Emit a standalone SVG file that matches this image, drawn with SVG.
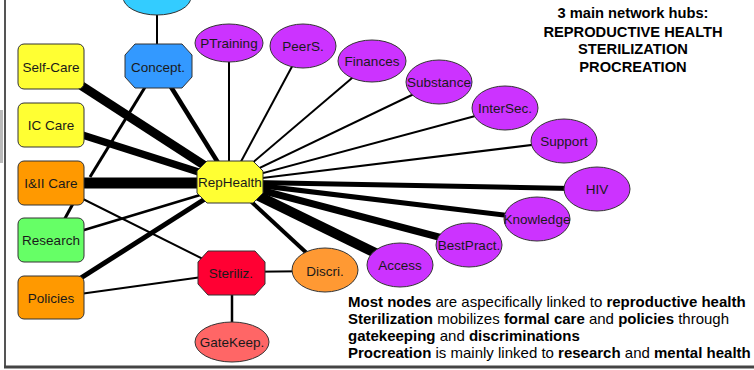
<svg xmlns="http://www.w3.org/2000/svg" width="754" height="370" viewBox="0 0 754 370">
<style>
.n{stroke:#333;stroke-width:1}
.t{font-family:"Liberation Sans",Arial,sans-serif;font-size:13.5px;fill:#1a1a1a;text-anchor:middle;dominant-baseline:central}
.e{stroke:#000;fill:none;stroke-linecap:butt}
.p{fill:#cc33ff}
.h{font-family:"Liberation Sans",Arial,sans-serif;font-size:14.7px;font-weight:bold;fill:#000;text-anchor:middle}
.b{font-family:"Liberation Sans",Arial,sans-serif;font-size:15px;fill:#000}
.b tspan.k{font-weight:bold}
</style>
<rect width="754" height="370" fill="#fff"/>
<rect x="0" y="110" width="3" height="53" fill="#bbb"/>
<line x1="5" y1="0" x2="5" y2="368" stroke="#555" stroke-width="2"/>
<line x1="4" y1="367" x2="754" y2="367" stroke="#444" stroke-width="3"/>
<g id="edges">
<line class="e" x1="157" y1="10" x2="157" y2="60" stroke-width="2"/>
<line class="e" x1="158" y1="66" x2="230" y2="182" stroke-width="4.5"/>
<line class="e" x1="158" y1="66" x2="90" y2="177" stroke-width="3"/>
<line class="e" x1="51" y1="66" x2="230" y2="182" stroke-width="9"/>
<line class="e" x1="51" y1="125" x2="230" y2="182" stroke-width="7.5"/>
<line class="e" x1="51" y1="183" x2="230" y2="183" stroke-width="11"/>
<line class="e" x1="51" y1="183" x2="231" y2="273" stroke-width="2"/>
<line class="e" x1="75" y1="200" x2="63" y2="222" stroke-width="3"/>
<line class="e" x1="51" y1="240" x2="230" y2="186" stroke-width="2.5"/>
<line class="e" x1="51" y1="297" x2="230" y2="183" stroke-width="5"/>
<line class="e" x1="51" y1="298" x2="231" y2="273" stroke-width="2"/>
<line class="e" x1="231" y1="272" x2="325" y2="271" stroke-width="2"/>
<line class="e" x1="232" y1="273" x2="232" y2="342" stroke-width="2.5"/>
<line class="e" x1="230" y1="182" x2="325" y2="270" stroke-width="4"/>
<line class="e" x1="230" y1="182" x2="400" y2="265" stroke-width="10"/>
<line class="e" x1="230" y1="182" x2="469" y2="245" stroke-width="7"/>
<line class="e" x1="230" y1="182" x2="537" y2="219" stroke-width="5"/>
<line class="e" x1="230" y1="182" x2="597" y2="189" stroke-width="5"/>
<line class="e" x1="230" y1="182" x2="564" y2="141" stroke-width="2"/>
<line class="e" x1="230" y1="182" x2="505" y2="108" stroke-width="2"/>
<line class="e" x1="230" y1="182" x2="439" y2="82" stroke-width="2"/>
<line class="e" x1="230" y1="182" x2="372" y2="61" stroke-width="2"/>
<line class="e" x1="230" y1="182" x2="303" y2="46" stroke-width="2"/>
<line class="e" x1="229" y1="182" x2="229" y2="43" stroke-width="2"/>
</g>
<g id="top"><ellipse class="n" cx="157" cy="-3" rx="34" ry="18" fill="#33ccff"/></g>
<g id="concept"><polygon class="n" fill="#3399ff" points="135,44 182,44 192,55 192,77 182,88 135,88 125,77 125,55"/><text class="t" x="158" y="67">Concept.</text></g>
<g id="selfcare"><rect class="n" x="18" y="44" width="66" height="45" rx="6" fill="#ffff33"/><text class="t" x="51" y="67">Self-Care</text></g>
<g id="iccare"><rect class="n" x="18" y="103" width="66" height="44" rx="6" fill="#ffff33"/><text class="t" x="51" y="125">IC Care</text></g>
<g id="iiicare"><rect class="n" x="18" y="161" width="66" height="44" rx="6" fill="#ff9900"/><text class="t" x="51" y="183">I&amp;II Care</text></g>
<g id="research"><rect class="n" x="18" y="218" width="66" height="44" rx="6" fill="#66ff66"/><text class="t" x="51" y="240">Research</text></g>
<g id="policies"><rect class="n" x="18" y="276" width="66" height="43" rx="6" fill="#ff9900"/><text class="t" x="51" y="298">Policies</text></g>
<g id="rephealth"><polygon class="n" fill="#ffff33" points="207,161 253,161 263,171 263,193 253,203 207,203 197,193 197,171"/><text class="t" x="230" y="182">RepHealth</text></g>
<g id="steriliz"><polygon class="n" fill="#ff0033" points="208,251 255,251 265,262 265,284 255,295 208,295 198,284 198,262"/><text class="t" x="231" y="273">Steriliz.</text></g>
<g id="discri"><ellipse class="n" cx="325" cy="270" rx="33" ry="22" fill="#ff9933"/><text class="t" x="325" y="271">Discri.</text></g>
<g id="gatekeep"><ellipse class="n" cx="232" cy="342" rx="37" ry="20" fill="#ff6666"/><text class="t" x="232" y="342">GateKeep.</text></g>
<g id="ptraining"><ellipse class="n p" cx="229" cy="43" rx="34" ry="19"/><text class="t" x="229" y="43">PTraining</text></g>
<g id="peers"><ellipse class="n p" cx="303" cy="46" rx="33" ry="22"/><text class="t" x="303" y="46">PeerS.</text></g>
<g id="finances"><ellipse class="n p" cx="372" cy="61" rx="34" ry="21"/><text class="t" x="372" y="61">Finances</text></g>
<g id="substance"><ellipse class="n p" cx="439" cy="82" rx="33" ry="22"/><text class="t" x="439" y="82">Substance</text></g>
<g id="intersec"><ellipse class="n p" cx="505" cy="108" rx="33" ry="22"/><text class="t" x="505" y="108">InterSec.</text></g>
<g id="support"><ellipse class="n p" cx="564" cy="141" rx="33" ry="22"/><text class="t" x="564" y="141">Support</text></g>
<g id="hiv"><ellipse class="n p" cx="597" cy="189" rx="33" ry="22"/><text class="t" x="597" y="189">HIV</text></g>
<g id="knowledge"><ellipse class="n p" cx="537" cy="219" rx="33" ry="22"/><text class="t" x="537" y="219">Knowledge</text></g>
<g id="bestpract"><ellipse class="n p" cx="469" cy="245" rx="33" ry="22"/><text class="t" x="469" y="245">BestPract.</text></g>
<g id="access"><ellipse class="n p" cx="400" cy="265" rx="33" ry="22"/><text class="t" x="400" y="265">Access</text></g>
<g id="title">
<text class="h" x="633" y="18">3 main network hubs:</text>
<text class="h" x="633" y="37">REPRODUCTIVE HEALTH</text>
<text class="h" x="633" y="54">STERILIZATION</text>
<text class="h" x="633" y="72">PROCREATION</text>
</g>
<g id="notes">
<text class="b" x="348" y="307"><tspan class="k">Most nodes</tspan> are aspecifically linked to <tspan class="k">reproductive health</tspan></text>
<text class="b" x="348" y="324"><tspan class="k">Sterilization</tspan> mobilizes <tspan class="k">formal care</tspan> and <tspan class="k">policies</tspan> through</text>
<text class="b" x="348" y="341"><tspan class="k">gatekeeping</tspan> and <tspan class="k">discriminations</tspan></text>
<text class="b" x="348" y="358"><tspan class="k">Procreation</tspan> is mainly linked to <tspan class="k">research</tspan> and <tspan class="k">mental health</tspan></text>
</g>
</svg>
